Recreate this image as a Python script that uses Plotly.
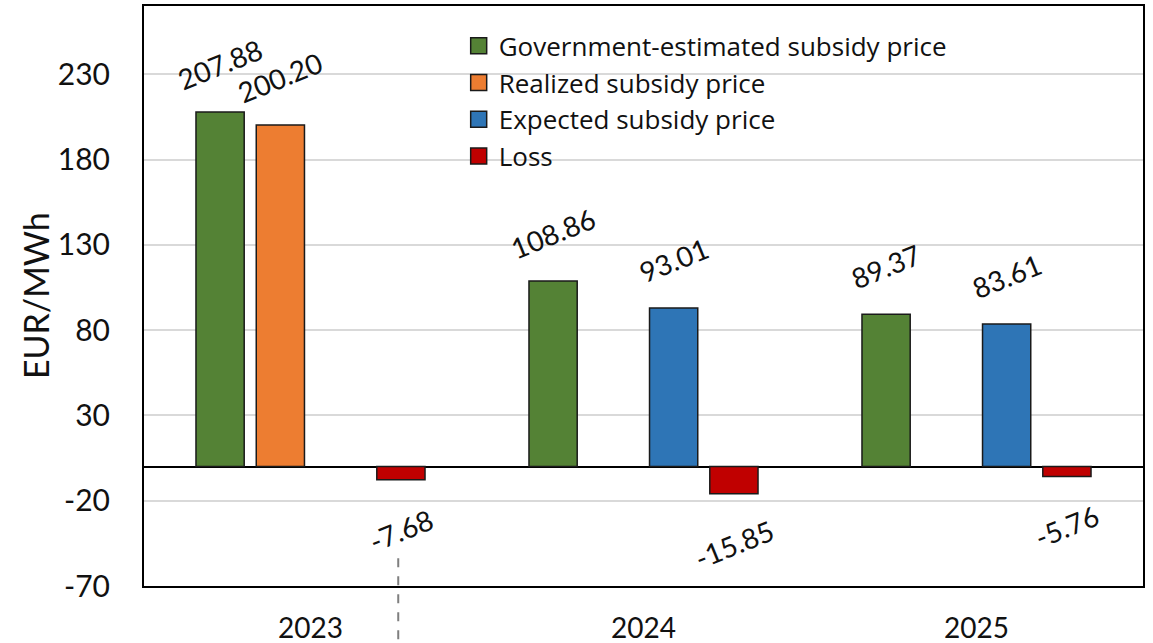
import plotly.graph_objects as go

# Subsidy prices per year (EUR/MWh)
years = ["2023", "2024", "2025"]
series_names = [
    "Government-estimated subsidy price",
    "Realized subsidy price",
    "Expected subsidy price",
    "Loss",
]
gov_estimated = [207.88, 108.86, 89.37]
realized = [200.20, None, None]
expected = [None, 93.01, 83.61]
loss = [-7.68, -15.85, -5.76]

y_ticks = [-70, -20, 30, 80, 130, 180, 230]
y_tick_labels = [str(t) for t in y_ticks]
colors = ["#548235", "#ED7D31", "#2E75B6", "#C00000"]
series_values = [gov_estimated, realized, expected, loss]

FONT = "Lato"
LEGEND_FONT = "Open Sans"
fig = go.Figure()

for name, vals, col in zip(series_names, series_values, colors):
    fig.add_trace(go.Bar(
        x=years, y=vals, name=name, showlegend=False,
        marker=dict(color=col, line=dict(color="#1a1a1a", width=1.5)),
    ))

# legend entries with a larger square swatch
for name, col in zip(series_names, colors):
    fig.add_trace(go.Scatter(
        x=[years[0]], y=[None], mode="markers", name=name,
        marker=dict(symbol="square", size=16, color=col,
                    line=dict(color="#1a1a1a", width=1.5)),
    ))

# value labels, rotated, placed beyond the end of each bar
# (annotations on a category axis are positioned by category index)
n_series = len(series_values)
slot_px = 60.3
for k, vals in enumerate(series_values):
    for i, v in enumerate(vals):
        if v is None:
            continue
        fig.add_annotation(
            x=i, y=v, text=f"{v:.2f}", showarrow=False,
            xshift=(k - (n_series - 1) / 2) * slot_px,
            yshift=48 if v >= 0 else -50,
            textangle=-22, font=dict(family=FONT, size=28, color="#111"),
        )

# y-axis title
fig.add_annotation(
    x=-0.109, y=0.5, xref="paper", yref="paper", text="EUR/MWh",
    xanchor="center", yanchor="middle",
    showarrow=False, textangle=-90,
    font=dict(family=FONT, size=34, color="#111"),
)

# dashed leader line below the 2023 loss label
fig.add_shape(
    type="line", xref="paper", yref="paper",
    x0=0.2545, x1=0.2545, y0=0.048, y1=-0.12,
    line=dict(color="#7f7f7f", width=2, dash="dash"),
)

fig.update_layout(
    width=1153, height=643,
    margin=dict(l=144, r=10, t=6, b=57),
    plot_bgcolor="white", paper_bgcolor="white",
    barmode="group", bargap=0.276, bargroupgap=0.2,
    font=dict(family=FONT, color="#111"),
    legend=dict(
        x=0.315, y=0.972, xanchor="left", yanchor="top",
        font=dict(family=LEGEND_FONT, size=26, color="#111"),
        bgcolor="rgba(0,0,0,0)", tracegroupgap=0, itemwidth=30,
    ),
    xaxis=dict(
        type="category", automargin=False, range=[-0.5, 2.5],
        showgrid=False, showline=True, linecolor="black", linewidth=2,
        mirror=True, ticks="", tickfont=dict(family=FONT, size=28),
        ticklabelstandoff=16,
    ),
    yaxis=dict(
        automargin=False,
        range=[-70, 270], tickvals=y_ticks, ticktext=y_tick_labels,
        showgrid=True, gridcolor="#d9d9d9", gridwidth=2,
        zeroline=True, zerolinecolor="black", zerolinewidth=2,
        showline=True, linecolor="black", linewidth=2, mirror=True,
        ticks="", tickfont=dict(family=FONT, size=30),
        ticklabelstandoff=26,
    ),
)

fig.write_html("out.html")
